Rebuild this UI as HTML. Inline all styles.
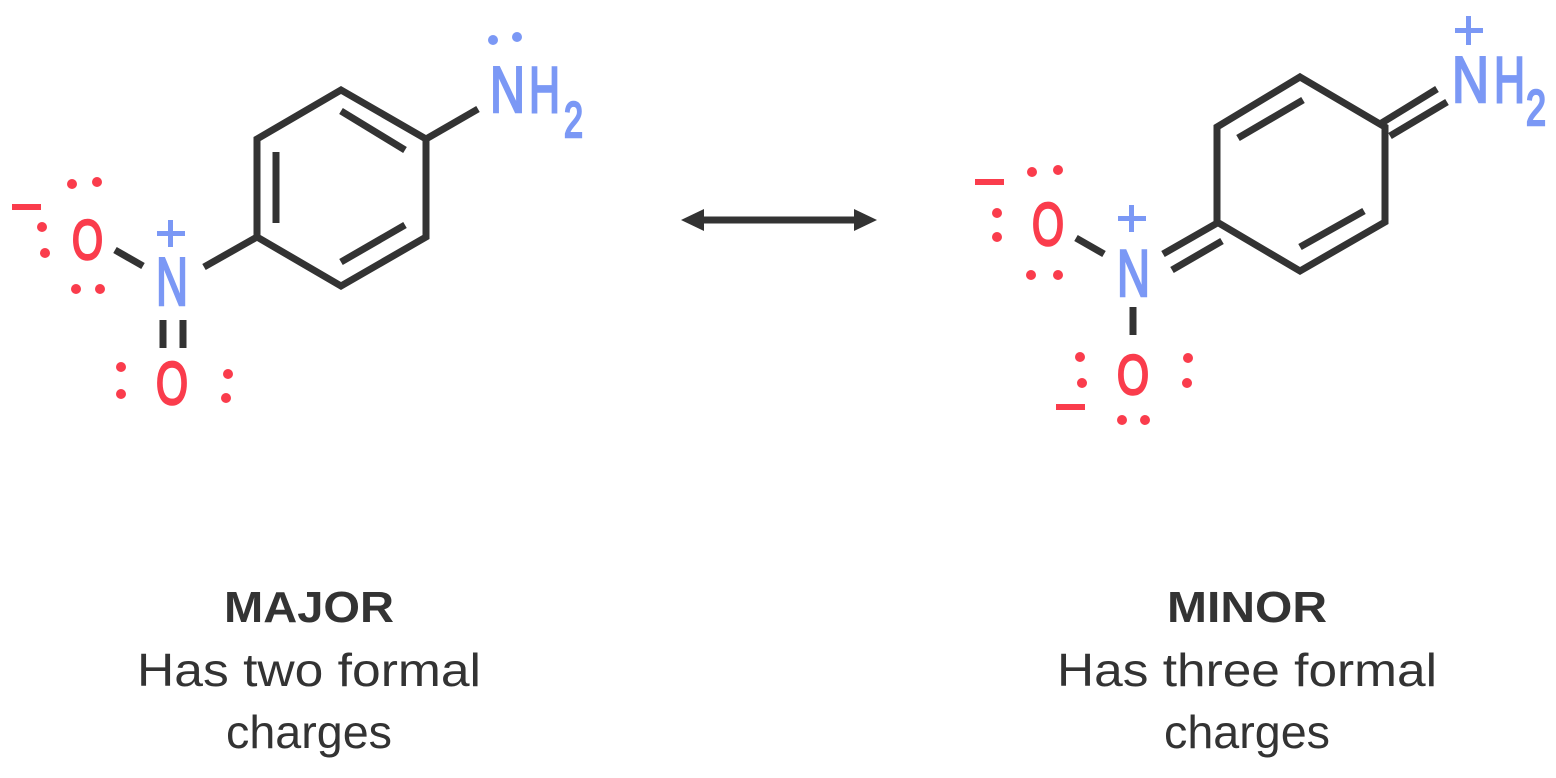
<!DOCTYPE html>
<html><head><meta charset="utf-8"><style>
html,body{margin:0;padding:0;background:#fff;}
svg{display:block;}
text{font-family:"Liberation Sans","DejaVu Sans",sans-serif;}
.b text{stroke:#7b98f5;stroke-width:2.5;}
.r text{stroke:#fa3c4c;stroke-width:2.5;}
</style></head><body>
<svg width="1556" height="778" viewBox="0 0 1556 778" xmlns="http://www.w3.org/2000/svg">
<g stroke="#333" stroke-width="7" fill="none" stroke-linecap="butt" stroke-linejoin="miter">
  <polygon points="341,90 426,139 426,237 341,286 257,237 257,139"/>
  <line x1="276" y1="152" x2="276" y2="223"/>
  <line x1="341" y1="111" x2="405" y2="150"/>
  <line x1="341" y1="262" x2="405" y2="225"/>
  <line x1="426" y1="139" x2="478" y2="109"/>
  <line x1="257" y1="237" x2="204" y2="267"/>
  <line x1="115" y1="250" x2="143" y2="266"/>
  <line x1="163" y1="320" x2="163" y2="348"/>
  <line x1="183" y1="320" x2="183" y2="348"/>
  <line x1="698" y1="220" x2="860" y2="220"/>
  <polygon points="1300,77 1385,127 1385,222 1300,271 1217,222 1217,127"/>
  <line x1="1238" y1="138" x2="1303" y2="100"/>
  <line x1="1300" y1="247" x2="1364" y2="211"/>
  <line x1="1380" y1="124" x2="1437" y2="89"/>
  <line x1="1390" y1="136" x2="1447" y2="102"/>
  <line x1="1163" y1="254" x2="1219" y2="222"/>
  <line x1="1172" y1="270" x2="1222" y2="241"/>
  <line x1="1076" y1="238" x2="1104" y2="254"/>
  <line x1="1133" y1="307" x2="1133" y2="335"/>
</g>
<polygon points="681,220 704,209 704,231" fill="#333"/>
<polygon points="877,220 854,209 854,231" fill="#333"/>

<g fill="#7b98f5" class="b">
  <text x="490" y="112" font-size="65" textLength="35" lengthAdjust="spacingAndGlyphs">N</text>
  <text x="529" y="112" font-size="65" textLength="31" lengthAdjust="spacingAndGlyphs">H</text>
  <text x="564" y="137" font-size="50" textLength="19" lengthAdjust="spacingAndGlyphs">2</text>
  <circle cx="493" cy="40" r="5"/><circle cx="517" cy="37" r="5"/>
  <text x="156" y="305" font-size="68" textLength="32" lengthAdjust="spacingAndGlyphs">N</text>
  <rect x="157" y="231" width="28" height="5"/><rect x="168" y="220" width="5" height="27"/>
</g>
<g fill="#fa3c4c" class="r">
  <text x="72" y="259" font-size="56" textLength="31" lengthAdjust="spacingAndGlyphs">O</text>
  <text x="156" y="404" font-size="60" textLength="32" lengthAdjust="spacingAndGlyphs">O</text>
  <rect x="12" y="204" width="29" height="6"/>
  <circle cx="72" cy="184" r="5"/><circle cx="97" cy="182" r="5"/>
  <circle cx="42" cy="227" r="5"/><circle cx="45" cy="253" r="5"/>
  <circle cx="76" cy="289" r="5"/><circle cx="100" cy="289" r="5"/>
  <circle cx="121" cy="367" r="5"/><circle cx="121" cy="394" r="5"/>
  <circle cx="228" cy="374" r="5"/><circle cx="226" cy="398" r="5"/>
</g>

<g fill="#7b98f5" class="b">
  <text x="1452" y="102" font-size="65" textLength="37" lengthAdjust="spacingAndGlyphs">N</text>
  <text x="1494" y="102" font-size="65" textLength="31" lengthAdjust="spacingAndGlyphs">H</text>
  <text x="1526" y="125" font-size="50" textLength="20" lengthAdjust="spacingAndGlyphs">2</text>
  <rect x="1455" y="28" width="28" height="5"/><rect x="1466" y="16" width="5" height="29"/>
  <text x="1117" y="296" font-size="66" textLength="33" lengthAdjust="spacingAndGlyphs">N</text>
  <rect x="1118" y="216" width="28" height="5"/><rect x="1129" y="205" width="5" height="27"/>
</g>
<g fill="#fa3c4c" class="r">
  <text x="1032" y="245" font-size="60" textLength="32" lengthAdjust="spacingAndGlyphs">O</text>
  <text x="1117" y="394" font-size="56" textLength="32" lengthAdjust="spacingAndGlyphs">O</text>
  <rect x="975" y="179" width="29" height="6"/>
  <rect x="1056" y="404" width="29" height="6"/>
  <circle cx="1032" cy="172" r="5"/><circle cx="1058" cy="170" r="5"/>
  <circle cx="997" cy="213" r="5"/><circle cx="997" cy="237" r="5"/>
  <circle cx="1031" cy="275" r="5"/><circle cx="1058" cy="275" r="5"/>
  <circle cx="1080" cy="357" r="5"/><circle cx="1082" cy="383" r="5"/>
  <circle cx="1188" cy="358" r="5"/><circle cx="1187" cy="383" r="5"/>
  <circle cx="1122" cy="420" r="5"/><circle cx="1145" cy="420" r="5"/>
</g>

<g fill="#333" text-anchor="middle">
  <text x="309" y="622" font-size="44" font-weight="bold" textLength="170" lengthAdjust="spacingAndGlyphs">MAJOR</text>
  <text x="309" y="686" font-size="46" textLength="344" lengthAdjust="spacingAndGlyphs">Has two formal</text>
  <text x="309" y="748" font-size="46" textLength="166" lengthAdjust="spacingAndGlyphs">charges</text>
  <text x="1247" y="622" font-size="44" font-weight="bold" textLength="160" lengthAdjust="spacingAndGlyphs">MINOR</text>
  <text x="1247" y="686" font-size="46" textLength="380" lengthAdjust="spacingAndGlyphs">Has three formal</text>
  <text x="1247" y="748" font-size="46" textLength="166" lengthAdjust="spacingAndGlyphs">charges</text>
</g>
</svg>
</body></html>
